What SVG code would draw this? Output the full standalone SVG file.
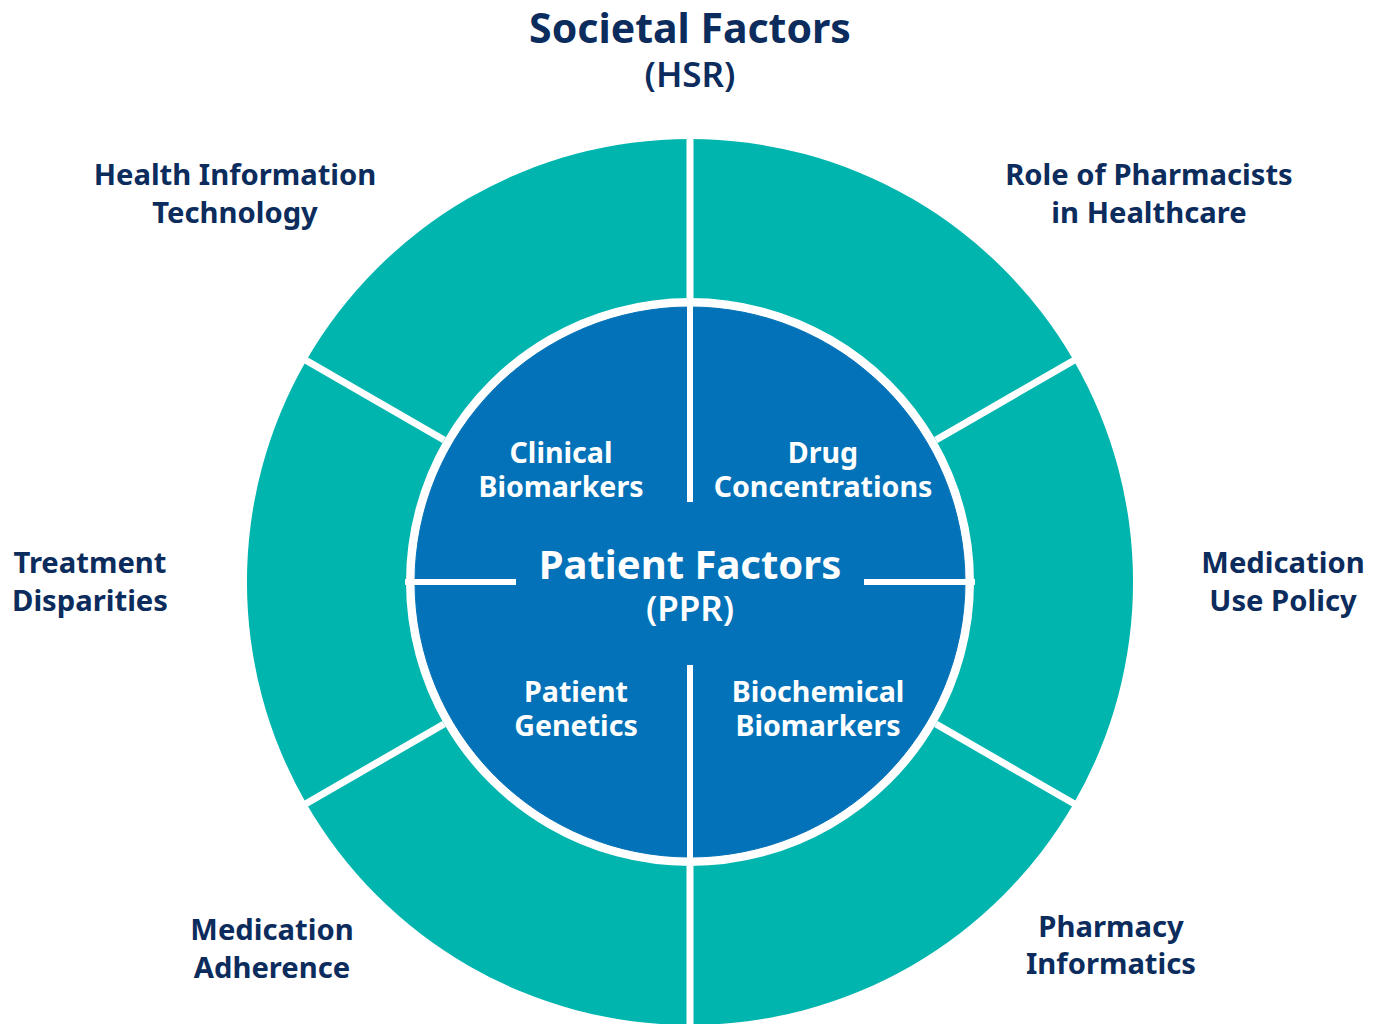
<svg xmlns="http://www.w3.org/2000/svg" width="1380" height="1024" viewBox="0 0 1380 1024">
<style>
.seg{fill:#00b5ae}
.quad{fill:#0472b8;stroke:#0472b8;stroke-width:1}
.lbl{font-family:"Noto Sans","Open Sans",sans-serif;font-weight:700;fill:#0b2c5c;text-anchor:middle;font-size:29.2px}
.in{font-family:"Noto Sans","Open Sans",sans-serif;font-weight:700;fill:#ffffff;text-anchor:middle;font-size:28.6px}
.div{stroke:#ffffff;stroke-width:7;fill:none}
</style>
<rect width="1380" height="1024" fill="#ffffff"/>
<g id="title">
<text class="lbl" x="690" y="43" style="font-size:41px">Societal Factors</text>
<text class="lbl" x="690" y="87" style="font-size:35px;font-weight:600">(HSR)</text>
</g>
<g id="seg-role">
<path class="seg" d="M690,139 A443,443 0 0 1 1073.7,360.5 L935.95,440 A284,284 0 0 0 690,298 Z"/>
<text class="lbl" x="1149" y="185">Role of Pharmacists</text>
<text class="lbl" x="1149" y="223">in Healthcare</text>
</g>
<g id="seg-policy">
<path class="seg" d="M1073.7,360.5 A443,443 0 0 1 1073.7,803.5 L935.95,724 A284,284 0 0 0 935.95,440 Z"/>
<text class="lbl" x="1283" y="573">Medication</text>
<text class="lbl" x="1283" y="611">Use Policy</text>
</g>
<g id="seg-informatics">
<path class="seg" d="M1073.7,803.5 A443,443 0 0 1 690,1025 L690,866 A284,284 0 0 0 935.95,724 Z"/>
<text class="lbl" x="1111" y="937">Pharmacy</text>
<text class="lbl" x="1111" y="974">Informatics</text>
</g>
<g id="seg-adherence">
<path class="seg" d="M690,1025 A443,443 0 0 1 306.3,803.5 L444.05,724 A284,284 0 0 0 690,866 Z"/>
<text class="lbl" x="272" y="940">Medication</text>
<text class="lbl" x="272" y="978">Adherence</text>
</g>
<g id="seg-disparities">
<path class="seg" d="M306.3,803.5 A443,443 0 0 1 306.3,360.5 L444.05,440 A284,284 0 0 0 444.05,724 Z"/>
<text class="lbl" x="90" y="573">Treatment</text>
<text class="lbl" x="90" y="611">Disparities</text>
</g>
<g id="seg-hit">
<path class="seg" d="M306.3,360.5 A443,443 0 0 1 690,139 L690,298 A284,284 0 0 0 444.05,440 Z"/>
<text class="lbl" x="235" y="185">Health Information</text>
<text class="lbl" x="235" y="223">Technology</text>
</g>
<g id="quad-clinical">
<path class="quad" d="M690,582 L690,307 A275,275 0 0 0 415,582 Z"/>
<text class="in" x="561" y="463">Clinical</text>
<text class="in" x="561" y="497">Biomarkers</text>
</g>
<g id="quad-drug">
<path class="quad" d="M690,582 L965,582 A275,275 0 0 0 690,307 Z"/>
<text class="in" x="823" y="463">Drug</text>
<text class="in" x="823" y="497">Concentrations</text>
</g>
<g id="quad-genetics">
<path class="quad" d="M690,582 L415,582 A275,275 0 0 0 690,857 Z"/>
<text class="in" x="576" y="702">Patient</text>
<text class="in" x="576" y="736">Genetics</text>
</g>
<g id="quad-biochem">
<path class="quad" d="M690,582 L690,857 A275,275 0 0 0 965,582 Z"/>
<text class="in" x="818" y="702">Biochemical</text>
<text class="in" x="818" y="736">Biomarkers</text>
</g>
<g id="dividers">
<line class="div" x1="690" y1="120" x2="690" y2="298"/>
<line class="div" x1="690" y1="866" x2="690" y2="1030"/>
<line class="div" x1="935.95" y1="440" x2="1085" y2="354"/>
<line class="div" x1="935.95" y1="724" x2="1085" y2="810"/>
<line class="div" x1="444.05" y1="440" x2="295" y2="354"/>
<line class="div" x1="444.05" y1="724" x2="295" y2="810"/>
<line class="div" x1="690" y1="300" x2="690" y2="502" style="stroke-width:6"/>
<line class="div" x1="690" y1="665" x2="690" y2="864" style="stroke-width:6"/>
<line class="div" x1="405" y1="582" x2="516" y2="582" style="stroke-width:6"/>
<line class="div" x1="864" y1="582" x2="975" y2="582" style="stroke-width:6"/>
</g>
<g id="patient-factors">
<text class="in" x="690" y="579" style="font-size:40px">Patient Factors</text>
<text class="in" x="690" y="621" style="font-size:35px;font-weight:600">(PPR)</text>
</g>
</svg>
